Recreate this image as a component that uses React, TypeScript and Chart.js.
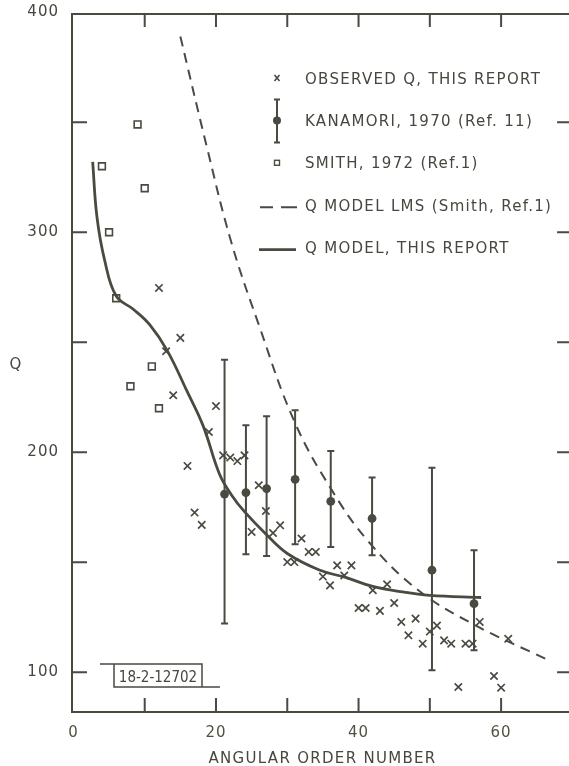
import { useEffect, useRef } from "react";
import { Chart, registerables } from "chart.js";

Chart.register(...registerables);

// Observed Q against angular order number (this report)
const observedOrder = [
  12, 13, 14, 15, 16, 17, 18, 19, 20, 21, 22, 23, 24, 25, 26, 27, 28, 29, 30, 31,
  32, 33, 34, 35, 36, 37, 38, 39, 40, 41, 42, 43, 44, 45, 46, 47, 48, 49, 50, 51,
  52, 53, 54, 55, 56, 57, 59, 60, 61,
];
const observedQ = [
  274.7, 245.9, 225.9, 252, 193.8, 172.6, 167, 209.2, 221, 198.6, 197.6, 196, 198.6,
  163.8, 185, 173.3, 163.3, 166.8, 150.1, 150.1, 160.8, 154.7, 154.7, 143.5, 139.5,
  148.6, 144, 148.6, 129.2, 129.2, 137.3, 127.9, 140, 131.5, 122.9, 116.8, 124.4, 113,
  118.5, 121.2, 114.5, 113, 93.3, 113, 113, 122.9, 98.3, 93, 115.2,
];

// Kanamori (1970) with error bars
const kanamoriOrder = [21.2, 24.2, 27.1, 31.1, 36.1, 41.9, 50.3, 56.2];
const kanamoriQ = [181, 181.7, 183.5, 187.7, 177.7, 169.9, 146.4, 131.2];
const kanamoriHigh = [242.1, 212.3, 216.4, 219.1, 200.6, 188.5, 193, 155.5];
const kanamoriLow = [122.2, 153.6, 152.9, 158.2, 157, 153.2, 100.9, 110];

// Smith (1972)
const smithOrder = [4, 5, 6, 8, 9, 10, 11, 12];
const smithQ = [330, 300, 270, 230, 349, 320, 239, 220];

// Q model LMS (Smith)
const lmsOrder = [15, 18.7, 22.1, 26, 31, 36.4, 41.5, 48.3, 56, 66.3];
const lmsQ = [389, 339, 296, 258, 214, 182, 159, 137.5, 122, 106];

// Q model, this report
const modelOrder = [
  2.7, 3.3, 4.4, 6, 8.4, 10.7, 13.2, 15.9, 18.2, 20.5, 22.2, 24, 27.1, 30, 34.5,
  38.3, 42, 46.2, 50, 57.2,
];
const modelQ = [
  332, 307, 287, 271, 265, 258, 246, 228, 212, 190, 180.5, 173, 162.5, 154, 146.5,
  143, 139, 136.5, 135, 134,
];

// Axes
const xLabelValues = [0, 20, 40, 60];
const xTickMarks = [10, 20, 30, 40, 50, 60];
const yLabelValues = [100, 200, 300, 400];
const yTickMarks = [100, 150, 200, 250, 300, 350];
const xTitle = "ANGULAR ORDER NUMBER";
const yTitle = "Q";

const legendLabels = [
  "OBSERVED Q, THIS REPORT",
  "KANAMORI, 1970 (Ref. 11)",
  "SMITH, 1972 (Ref.1)",
  "Q MODEL LMS (Smith, Ref.1)",
  "Q MODEL, THIS REPORT",
];
const plateLabel = "18-2-12702";

const INK = "#4a4a41";
const TEXT = "#47473f";
const FONT = '"DejaVu Sans", "Liberation Sans", sans-serif';

function toPoints(xs: number[], ys: number[]) {
  return xs.map((x, i) => ({ x, y: ys[i] }));
}

const decorPlugin = {
  id: "decor",
  beforeDraw(chart: any) {
    chart.ctx.letterSpacing = "1px";
  },
  beforeDatasetsDraw(chart: any) {
    const { ctx, chartArea: a, scales } = chart;
    const xs = scales.x;
    const ys = scales.y;
    ctx.save();
    ctx.strokeStyle = INK;
    ctx.lineWidth = 2;
    ctx.lineCap = "butt";
    ctx.strokeRect(a.left, a.top, a.right - a.left, a.bottom - a.top);

    // inward tick marks on all four sides
    ctx.beginPath();
    for (const v of xTickMarks) {
      const px = xs.getPixelForValue(v);
      ctx.moveTo(px, a.bottom);
      ctx.lineTo(px, a.bottom - 14);
      ctx.moveTo(px, a.top);
      ctx.lineTo(px, a.top + 13);
    }
    for (const v of yTickMarks) {
      const py = ys.getPixelForValue(v);
      ctx.moveTo(a.left, py);
      ctx.lineTo(a.left + 15, py);
      ctx.moveTo(a.right, py);
      ctx.lineTo(a.right - 16, py);
    }
    ctx.stroke();

    // Kanamori error bars
    ctx.lineWidth = 2;
    ctx.beginPath();
    kanamoriOrder.forEach((v, i) => {
      const px = xs.getPixelForValue(v);
      const top = ys.getPixelForValue(kanamoriHigh[i]);
      const bot = ys.getPixelForValue(kanamoriLow[i]);
      ctx.moveTo(px, top);
      ctx.lineTo(px, bot);
      ctx.moveTo(px - 3.5, top);
      ctx.lineTo(px + 3.5, top);
      ctx.moveTo(px - 3.5, bot);
      ctx.lineTo(px + 3.5, bot);
    });
    ctx.stroke();
    ctx.restore();
  },
  afterDraw(chart: any) {
    const { ctx, chartArea: a } = chart;
    ctx.save();
    ctx.fillStyle = TEXT;
    ctx.strokeStyle = INK;

    // axis titles
    ctx.font = `15px ${FONT}`;
    ctx.letterSpacing = "1.3px";
    ctx.textAlign = "center";
    ctx.textBaseline = "alphabetic";
    ctx.fillText(xTitle, (a.left + a.right) / 2, 763);
    ctx.letterSpacing = "0px";
    ctx.fillText(yTitle, a.left - 56.5, (a.top + a.bottom) / 2 + 5.5);

    // legend
    const symX = a.left + 205;
    const textX = a.left + 233;
    ctx.textAlign = "left";
    ctx.letterSpacing = "1.3px";
    legendLabels.forEach((label, i) => {
      const rowY = a.top + 64 + i * 42.4;
      ctx.fillText(label, textX, rowY + 5.5);
      ctx.lineWidth = 1.6;
      ctx.beginPath();
      if (i === 0) {
        ctx.moveTo(symX - 2.5, rowY - 3);
        ctx.lineTo(symX + 2.5, rowY + 3);
        ctx.moveTo(symX + 2.5, rowY - 3);
        ctx.lineTo(symX - 2.5, rowY + 3);
        ctx.stroke();
      } else if (i === 1) {
        ctx.lineWidth = 2;
        ctx.moveTo(symX, rowY - 21);
        ctx.lineTo(symX, rowY + 22);
        ctx.moveTo(symX - 3, rowY - 21);
        ctx.lineTo(symX + 3, rowY - 21);
        ctx.moveTo(symX - 3, rowY + 22);
        ctx.lineTo(symX + 3, rowY + 22);
        ctx.stroke();
        ctx.beginPath();
        ctx.fillStyle = INK;
        ctx.arc(symX, rowY, 4, 0, Math.PI * 2);
        ctx.fill();
        ctx.fillStyle = TEXT;
      } else if (i === 2) {
        ctx.lineWidth = 1.4;
        ctx.strokeRect(symX - 2.5, rowY - 2.5, 5, 5);
      } else if (i === 3) {
        ctx.lineWidth = 2;
        ctx.moveTo(a.left + 188, rowY + 2);
        ctx.lineTo(a.left + 201, rowY + 2);
        ctx.moveTo(a.left + 209, rowY + 2);
        ctx.lineTo(a.left + 225, rowY + 2);
        ctx.stroke();
      } else {
        ctx.lineWidth = 2.6;
        ctx.moveTo(a.left + 187, rowY + 2);
        ctx.lineTo(a.left + 224, rowY + 2);
        ctx.stroke();
      }
    });

    // drawing number plate
    const bx = a.left + 42;
    const by = a.bottom - 48;
    ctx.lineWidth = 1.5;
    ctx.beginPath();
    ctx.moveTo(a.left + 28, by);
    ctx.lineTo(bx + 88, by);
    ctx.lineTo(bx + 88, by + 23);
    ctx.moveTo(bx, by);
    ctx.lineTo(bx, by + 23);
    ctx.lineTo(a.left + 148, by + 23);
    ctx.stroke();
    ctx.font = `15px "DejaVu Sans Condensed", "Liberation Sans Narrow", ${FONT}`;
    ctx.letterSpacing = "0px";
    ctx.textAlign = "center";
    ctx.fillText(plateLabel, bx + 44, by + 17.5);
    ctx.restore();
  },
};

export default function App() {
  const ref = useRef<HTMLCanvasElement>(null);

  useEffect(() => {
    const canvas = ref.current;
    if (!canvas) return;
    const chart = new Chart(canvas, {
      type: "scatter",
      data: {
        datasets: [
          {
            label: legendLabels[0],
            data: toPoints(observedOrder, observedQ),
            pointStyle: "crossRot",
            pointRadius: 5.2,
            pointBorderWidth: 1.7,
            borderColor: INK,
            backgroundColor: INK,
            showLine: false,
            order: 1,
          },
          {
            label: legendLabels[1],
            data: toPoints(kanamoriOrder, kanamoriQ),
            pointStyle: "circle",
            pointRadius: 4.4,
            pointBorderWidth: 0,
            borderColor: INK,
            backgroundColor: INK,
            showLine: false,
            order: 0,
          },
          {
            label: legendLabels[2],
            data: toPoints(smithOrder, smithQ),
            pointStyle: "rect",
            pointRadius: 4.8,
            pointBorderWidth: 1.6,
            borderColor: INK,
            backgroundColor: "rgba(0,0,0,0)",
            showLine: false,
            order: 1,
          },
          {
            label: legendLabels[3],
            data: toPoints(lmsOrder, lmsQ),
            showLine: true,
            borderColor: INK,
            borderWidth: 2,
            borderDash: [10, 7],
            pointRadius: 0,
            tension: 0.4,
            order: 3,
          },
          {
            label: legendLabels[4],
            data: toPoints(modelOrder, modelQ),
            showLine: true,
            borderColor: INK,
            borderWidth: 2.8,
            pointRadius: 0,
            tension: 0.4,
            order: 2,
          },
        ],
      },
      options: {
        responsive: false,
        animation: false,
        layout: { padding: { left: 0, top: 14, right: 6, bottom: 0 } },
        plugins: {
          legend: { display: false },
          tooltip: { enabled: false },
        },
        events: [],
        scales: {
          x: {
            type: "linear",
            position: "bottom",
            min: -0.2,
            max: 70.1,
            grid: { display: false },
            border: { display: false },
            afterBuildTicks: (axis: any) => {
              axis.ticks = xLabelValues.map((value) => ({ value }));
            },
            afterFit: (axis: any) => {
              axis.height = 54;
            },
            ticks: {
              padding: 4,
              maxRotation: 0,
              color: "#53523e",
              font: { family: FONT, size: 15 },
            },
          },
          y: {
            type: "linear",
            position: "left",
            min: 81.95,
            max: 399.2,
            grid: { display: false },
            border: { display: false },
            afterBuildTicks: (axis: any) => {
              axis.ticks = yLabelValues.map((value) => ({ value }));
            },
            afterFit: (axis: any) => {
              axis.width = 72;
            },
            ticks: {
              padding: 5,
              color: TEXT,
              font: { family: FONT, size: 15 },
            },
          },
        },
      },
      plugins: [decorPlugin],
    } as any);
    return () => chart.destroy();
  }, []);

  return (
    <div
      style={{
        position: "fixed",
        left: 0,
        top: 0,
        width: 569,
        height: 766,
        overflow: "hidden",
        background: "#ffffff",
      }}
    >
      <canvas ref={ref} width={580} height={766} style={{ display: "block", width: 580, height: 766 }} />
    </div>
  );
}
